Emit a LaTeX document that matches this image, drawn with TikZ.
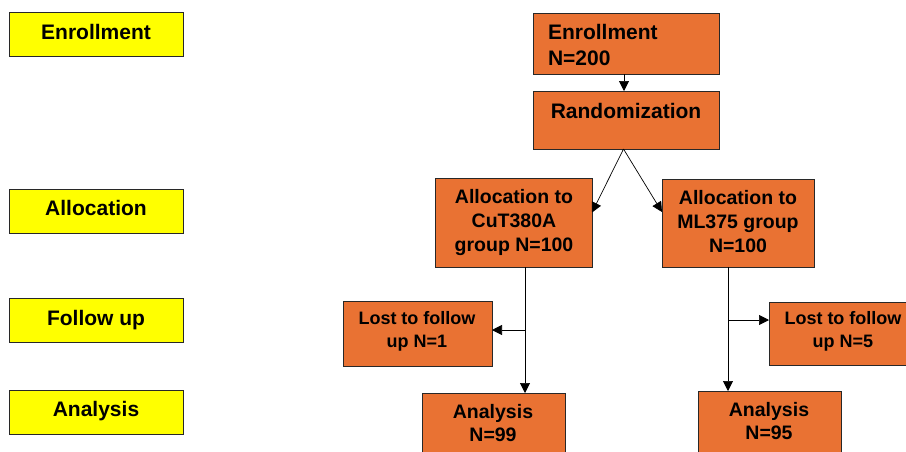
\documentclass[tikz,border=0pt]{standalone}
\usepackage{fontspec}
\setmainfont{Liberation Sans}
\usetikzlibrary{arrows.meta}
\definecolor{boxorange}{RGB}{233,114,51}
\definecolor{boxyellow}{RGB}{255,255,0}
\definecolor{edgegray}{RGB}{40,40,40}
\tikzset{
  basebox/.style={draw=edgegray, line width=0.8pt, inner sep=0pt, outer sep=0pt, anchor=north west},
  obox/.style={basebox, fill=boxorange},
  ybox/.style={basebox, fill=boxyellow, minimum width=174pt, minimum height=44pt},
  btxt/.style={inner sep=0pt, outer sep=0pt, anchor=base, align=center, font=\bfseries\fontsize{19.5}{24}\selectfont},
  ytxt/.style={btxt, font=\bfseries\fontsize{21}{26}\selectfont},
  ltxt/.style={btxt, font=\bfseries\fontsize{18}{23}\selectfont},
  atxt/.style={btxt, font=\bfseries\fontsize{19.5}{23}\selectfont},
  arr/.style={draw=black, line width=0.7pt, -{Triangle[length=10pt,width=10pt]}},
  ln/.style={draw=black, line width=0.7pt}
}
\begin{document}
\begin{tikzpicture}[x=1pt,y=-1pt]
\useasboundingbox (0,0) rectangle (906,451);
\fill[white] (0,0) rectangle (906,451);
\clip (0,0) rectangle (906,451);

% left stage labels
\node[ybox] (yEnr) at (9,12) {};
\node[ytxt] (yEnrT) at (96,39.3) {Enrollment};
\node[ybox] (yAll) at (9,189) {};
\node[ytxt] (yAllT) at (96,215) {Allocation};
\node[ybox] (yFol) at (9,298) {};
\node[ytxt] (yFolT) at (96,325) {Follow up};
\node[ybox] (yAna) at (9,390) {};
\node[ytxt] (yAnaT) at (96,416.7) {Analysis};

% flow boxes (text anchors are the baseline of the last line)
\node[obox, minimum width=186pt, minimum height=61pt] (enr) at (533,13) {};
\node[ytxt, anchor=base west, align=left] (enrT) at (548,65.5) {Enrollment\\N=200};
\node[obox, minimum width=186pt, minimum height=58pt] (rand) at (533,91) {};
\node[ytxt] (randT) at (626,118) {Randomization};

\node[obox, minimum width=157pt, minimum height=89pt] (alocL) at (435,178) {};
\node[btxt] (alocLT) at (514,251.3) {Allocation to\\CuT380A\\group N=100};
\node[obox, minimum width=152pt, minimum height=88pt] (alocR) at (662,179) {};
\node[btxt] (alocRT) at (738,252.5) {Allocation to\\ML375 group\\N=100};

\node[obox, minimum width=149pt, minimum height=65pt] (lostL) at (343,301) {};
\node[ltxt] (lostLT) at (417,347) {Lost to follow\\up N=1};
\node[obox, minimum width=148pt, minimum height=63pt] (lostR) at (769,302) {};
\node[ltxt] (lostRT) at (843,347.3) {Lost to follow\\up N=5};

\node[obox, minimum width=143pt, minimum height=70pt] (anaL) at (422,393) {};
\node[atxt] (anaLT) at (493,441) {Analysis\\N=99};
\node[obox, minimum width=143pt, minimum height=70pt] (anaR) at (698,391) {};
\node[atxt] (anaRT) at (769,439) {Analysis\\N=95};

% connectors
\draw[arr] ([xshift=-2pt]enr.south) -- ([xshift=-2pt]rand.north);
\coordinate (apex) at ([xshift=-2.5pt]rand.south);
\draw[arr] (apex) -- ([yshift=10pt]alocL.east);
\draw[arr] (apex) -- ([yshift=11pt]alocR.west);

\coordinate (vL) at ([xshift=11.5pt]alocL.south);
\draw[arr] (vL) -- (vL |- anaL.north);
\draw[arr] ([yshift=3.5pt]lostL.east -| vL) -- ([yshift=3.5pt]lostL.east);

\coordinate (vR) at ([xshift=-10pt]alocR.south);
\draw[arr] (vR) -- (vR |- anaR.north);
\draw[arr] ([yshift=13.5pt]lostR.west -| vR) -- ([yshift=13.5pt]lostR.west);
\end{tikzpicture}
\end{document}
